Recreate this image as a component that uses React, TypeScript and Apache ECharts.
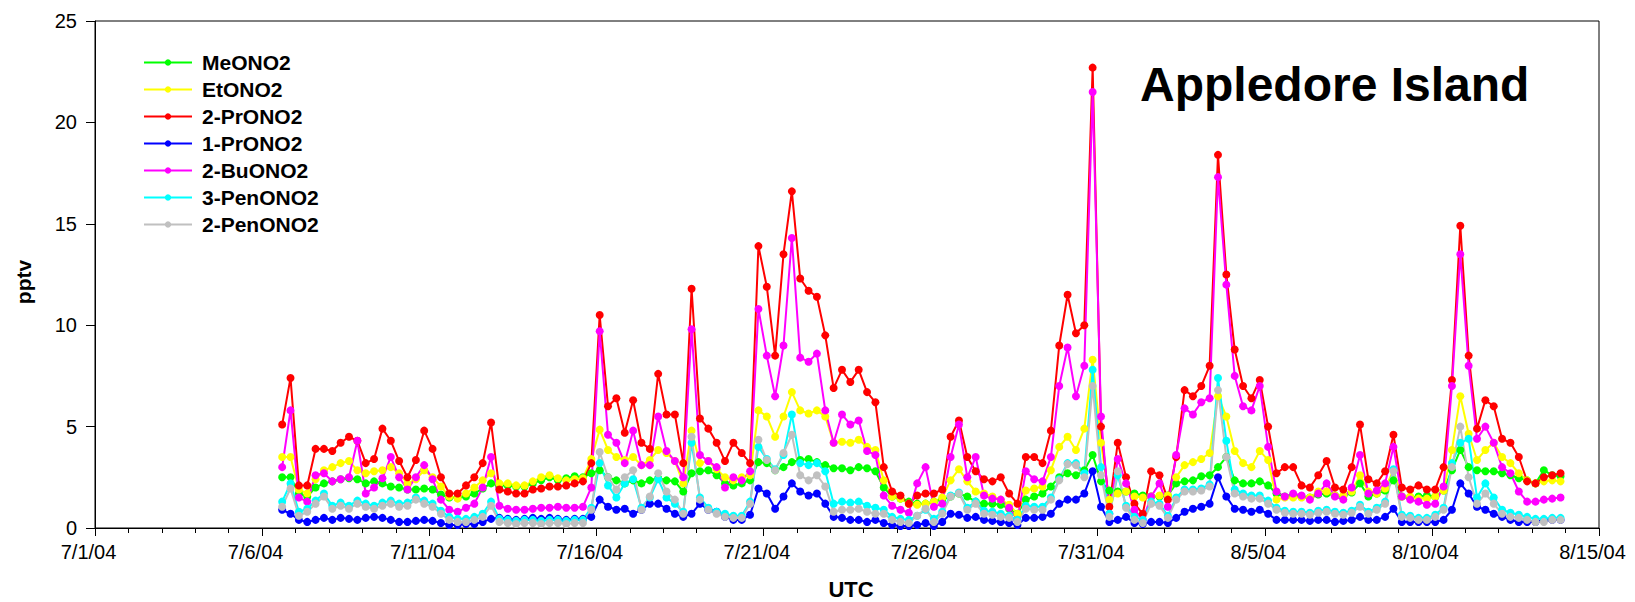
import React, { useEffect, useRef } from "react";
import * as echarts from "echarts";

const FONT = 'Arial, "Liberation Sans", Helvetica, sans-serif';

// Samples are every 6 hours, time given in days after 7/1/04 00:00 UTC
const START_DAY = 5.6;
const STEP_DAY = 0.25;

const xTickLabels = ["7/1/04", "7/6/04", "7/11/04", "7/16/04", "7/21/04", "7/26/04", "7/31/04", "8/5/04", "8/10/04", "8/15/04"];

// Mixing ratios, pptv
const meONO2 = [
  2.5, 2.5, 1.7, 1.55, 2.0, 2.2, 2.3, 2.4, 2.45, 2.4, 2.2, 2.3, 2.2, 2.05, 2.0, 1.9, 1.9, 1.95, 1.9, 1.65, 1.5, 1.5, 1.55, 1.7, 1.95, 2.2,
  2.1, 2.1, 2.05, 2.05, 2.2, 2.35, 2.5, 2.35, 2.45, 2.55, 2.5, 2.7, 2.85, 2.5, 2.35, 2.2, 2.35, 2.2, 2.35, 2.45, 2.35, 2.3, 1.8, 2.7, 2.8, 2.85, 2.6,
  2.2, 2.1, 2.2, 2.35, 3.25, 3.2, 2.85, 3.0, 3.25, 3.35, 3.4, 3.25, 3.1, 2.95, 2.95, 2.85, 3.0, 2.95, 2.8, 2.0, 1.55, 1.45, 1.3, 1.2, 1.2, 1.3, 1.4,
  1.55, 1.7, 1.55, 1.3, 1.2, 1.2, 1.15, 0.95, 0.7, 1.4, 1.55, 1.7, 2.05,
  2.5, 2.7, 2.6, 2.85, 3.6, 2.3, 1.85, 1.8, 1.8, 1.7, 1.6, 1.55, 1.55, 1.6, 2.2, 2.3,
  2.35, 2.55, 2.6, 3.0, 3.5, 2.35, 2.2, 2.2, 2.3, 2.1, 1.7, 1.55, 1.6, 1.55, 1.5, 1.65, 1.7, 1.6, 1.55, 1.75, 2.2,
  1.55, 1.7, 1.85, 2.35, 1.55, 1.5, 1.55, 1.6, 1.55, 1.85, 2.85, 3.85, 3.0, 2.85, 2.8, 2.8, 2.7, 2.6, 2.45, 2.35, 2.2, 2.85, 2.6, 2.55,
];

const etONO2 = [
  3.5, 3.5, 1.9, 1.7, 2.4, 2.85, 3.0, 3.2, 3.3, 2.85, 2.7, 2.8, 2.85, 3.0, 2.7, 2.2, 2.4, 2.85, 2.5, 2.05, 1.55, 1.45, 1.7, 2.0, 2.35, 2.7,
  2.2, 2.2, 2.1, 2.1, 2.3, 2.5, 2.6, 2.45, 2.35, 2.4, 2.45, 3.4, 4.85, 3.85, 3.5, 3.35, 3.5, 3.1, 3.35, 3.85, 3.7, 3.3, 2.2, 4.8, 3.2, 3.3, 2.9,
  2.5, 2.35, 2.5, 2.6, 5.8, 5.5, 4.5, 5.5, 6.7, 5.8, 5.65, 5.8, 5.5, 4.2, 4.25, 4.2, 4.35, 4.0, 3.85, 2.35, 1.55, 1.45, 1.2, 1.15, 1.2, 1.3, 1.5,
  2.35, 2.9, 2.3, 1.8, 1.7, 1.55, 1.4, 1.15, 0.7, 1.85, 1.95, 2.05, 2.85,
  4.0, 4.5, 3.85, 4.9, 8.3, 4.2, 1.4, 1.7, 1.8, 1.55, 1.5, 1.55, 1.6, 1.6, 2.5, 3.1,
  3.25, 3.4, 3.7, 6.5, 5.5, 3.8, 3.2, 3.0, 3.8, 3.35, 1.4, 1.5, 1.5, 1.5, 1.5, 1.8, 1.8, 1.6, 1.6, 1.8, 2.6,
  1.8, 1.7, 1.95, 2.85, 1.55, 1.55, 1.45, 1.45, 1.55, 1.85, 3.85, 6.5, 4.65, 3.35, 3.85, 4.2, 3.5, 3.2, 2.7, 2.35, 2.2, 2.3, 2.35, 2.3,
];

const prONO2_2 = [
  5.1, 7.4, 2.1, 2.1, 3.9, 3.9, 3.8, 4.2, 4.5, 4.3, 3.2, 3.4, 4.9, 4.3, 3.3, 2.5, 3.35, 4.8, 3.9, 2.5, 1.7, 1.7, 2.1, 2.5, 3.2, 5.2,
  1.9, 1.8, 1.7, 1.7, 1.9, 1.95, 2.05, 2.05, 2.1, 2.2, 2.3, 3.2, 10.5, 6.0, 6.4, 4.7, 6.3, 4.2, 3.9, 7.6, 5.6, 5.6, 3.2, 11.8, 5.4, 4.9, 4.2,
  3.3, 4.2, 3.7, 3.2, 13.9, 11.9, 8.5, 13.5, 16.6, 12.3, 11.7, 11.4, 9.5, 6.9, 7.8, 7.2, 7.8, 6.7, 6.2, 3.0, 1.8, 1.6, 1.2, 1.6, 1.7, 1.7, 1.9,
  4.5, 5.3, 3.5, 2.8, 2.4, 2.3, 2.5, 1.7, 1.2, 3.5, 3.5, 3.2, 4.8,
  9.0, 11.5, 9.6, 10.0, 22.7, 5.0, 1.05, 4.2, 2.5, 1.2, 0.7, 2.8, 2.6, 1.4, 3.5, 6.8,
  6.5, 7.0, 8.0, 18.4, 12.5, 8.8, 7.0, 6.4, 7.3, 5.0, 2.7, 3.0, 3.0, 2.1, 2.0, 2.6, 3.3, 2.0, 1.9, 3.0, 5.1,
  2.4, 2.2, 2.8, 4.6, 2.0, 1.9, 2.1, 1.9, 1.9, 3.0, 7.3, 14.9, 8.5, 4.9, 6.3, 6.0, 4.4, 4.2, 3.5, 2.3, 2.2, 2.5, 2.6, 2.7,
];

const prONO2_1 = [
  0.9, 0.7, 0.4, 0.3, 0.4, 0.5, 0.4, 0.5, 0.45, 0.4, 0.5, 0.55, 0.5, 0.4, 0.3, 0.3, 0.35, 0.4, 0.35, 0.25, 0.15, 0.15, 0.2, 0.2, 0.3, 0.45,
  0.5, 0.45, 0.4, 0.45, 0.5, 0.45, 0.5, 0.45, 0.4, 0.45, 0.45, 0.55, 1.4, 1.05, 0.9, 0.95, 0.7, 0.9, 1.2, 1.2, 0.95, 0.7, 0.55, 0.7, 1.2, 0.9, 0.8,
  0.55, 0.4, 0.4, 0.65, 1.95, 1.7, 0.95, 1.55, 2.2, 1.8, 1.6, 1.7, 1.2, 0.55, 0.5, 0.4, 0.4, 0.3, 0.4, 0.25, 0.15, 0.1, 0.1, 0.15, 0.25, 0.1, 0.3,
  0.7, 0.65, 0.5, 0.55, 0.4, 0.35, 0.3, 0.25, 0.15, 0.5, 0.5, 0.55, 0.7,
  1.2, 1.4, 1.4, 1.7, 2.8, 1.05, 0.3, 0.4, 0.55, 0.25, 0.2, 0.3, 0.3, 0.25, 0.5, 0.8,
  0.95, 1.05, 1.2, 2.5, 1.55, 0.95, 0.9, 0.8, 0.9, 0.7, 0.4, 0.4, 0.4, 0.4, 0.35, 0.4, 0.4, 0.3, 0.35, 0.4, 0.55,
  0.4, 0.4, 0.55, 0.95, 0.3, 0.3, 0.3, 0.3, 0.3, 0.4, 0.9, 2.2, 1.7, 1.05, 0.9, 0.7, 0.55, 0.4, 0.3, 0.3, 0.3, 0.4, 0.4, 0.4,
];

const buONO2_2 = [
  3.0, 5.8, 1.5, 1.3, 2.6, 2.7, 2.3, 2.4, 2.5, 4.3, 1.7, 2.0, 2.45, 3.5, 2.5, 1.9, 2.5, 3.1, 2.4, 1.4, 0.9, 0.8, 1.0, 1.2, 2.0, 3.5,
  1.1, 0.95, 0.9, 0.9, 0.95, 1.0, 1.0, 1.05, 1.0, 1.0, 1.05, 2.0, 9.7, 4.6, 4.2, 3.2, 4.8, 3.1, 3.1, 5.5, 3.8, 3.3, 2.5, 9.8, 3.6, 3.3, 3.0,
  2.0, 2.5, 2.35, 2.8, 10.8, 8.5, 6.5, 9.0, 14.3, 8.4, 8.2, 8.6, 5.8, 4.2, 5.6, 5.1, 5.3, 3.8, 3.6, 1.6, 1.1, 0.9, 0.75, 2.2, 3.0, 1.05, 1.2,
  3.5, 5.1, 2.5, 3.5, 1.6, 1.45, 1.4, 1.0, 0.4, 2.8, 2.4, 2.3, 3.5,
  7.0, 8.9, 6.5, 8.0, 21.5, 5.5, 0.7, 3.4, 2.2, 0.9, 0.4, 1.55, 2.2, 1.05, 3.6, 5.9,
  5.6, 6.2, 6.4, 17.3, 12.0, 7.5, 6.0, 5.8, 7.0, 4.0, 1.8, 1.55, 1.7, 1.6, 1.4, 1.7, 2.2, 1.55, 1.4, 2.0, 3.6,
  1.7, 1.85, 2.2, 4.0, 1.55, 1.4, 1.3, 1.15, 1.2, 2.05, 7.0, 13.5, 8.0, 4.4, 5.0, 4.2, 3.0, 2.7, 1.8, 1.3, 1.3, 1.4, 1.45, 1.5,
];

const penONO2_3 = [
  1.3, 2.2, 0.8, 0.95, 1.35, 1.7, 1.1, 1.25, 1.1, 1.35, 1.2, 1.1, 1.25, 1.35, 1.2, 1.25, 1.5, 1.35, 1.2, 0.85, 0.55, 0.45, 0.45, 0.55, 0.7, 1.3,
  0.45, 0.4, 0.35, 0.4, 0.4, 0.35, 0.4, 0.4, 0.35, 0.4, 0.4, 1.0, 3.2, 2.1, 1.5, 2.2, 2.4, 1.0, 1.5, 2.4, 1.5, 1.2, 0.8, 4.2, 1.5, 1.0, 0.8,
  0.7, 0.6, 0.6, 1.3, 4.0, 3.4, 2.9, 3.6, 5.6, 3.2, 3.1, 3.2, 2.8, 1.2, 1.3, 1.25, 1.3, 1.1, 1.0, 0.9, 0.55, 0.45, 0.4, 0.6, 0.9, 0.45, 0.8,
  1.6, 1.75, 1.0, 1.3, 0.85, 0.8, 0.7, 0.6, 0.4, 1.1, 1.05, 1.05, 1.5,
  2.4, 3.2, 3.2, 2.7, 7.8, 3.0, 0.7, 2.6, 1.1, 0.55, 0.4, 1.3, 1.2, 0.6, 1.5, 1.9,
  1.9, 1.95, 2.15, 7.4, 4.3, 1.9, 1.7, 1.6, 1.6, 1.35, 1.0, 0.85, 0.8, 0.8, 0.75, 0.85, 0.9, 0.8, 0.75, 0.85, 1.15,
  0.8, 1.0, 1.3, 2.9, 0.65, 0.6, 0.5, 0.5, 0.65, 1.0, 3.2, 4.2, 4.4, 1.5, 2.2, 1.5, 0.9, 0.75, 0.65, 0.55, 0.45, 0.45, 0.5, 0.5,
];

const penONO2_2 = [
  1.05, 1.95, 0.6, 0.8, 1.2, 1.55, 0.95, 1.1, 0.95, 1.2, 1.05, 0.95, 1.1, 1.2, 1.05, 1.1, 1.4, 1.2, 1.05, 0.7, 0.4, 0.3, 0.3, 0.4, 0.55, 1.1,
  0.3, 0.25, 0.2, 0.25, 0.25, 0.2, 0.25, 0.25, 0.2, 0.25, 0.25, 0.9, 3.75, 2.5, 1.9, 2.5, 2.85, 0.9, 1.55, 2.7, 1.8, 1.4, 0.7, 4.5, 1.4, 0.9, 0.7,
  0.55, 0.5, 0.5, 1.2, 4.35, 3.35, 2.85, 3.7, 4.6, 2.6, 2.35, 2.6, 2.05, 0.8, 0.9, 0.9, 0.95, 0.8, 0.7, 0.7, 0.4, 0.3, 0.25, 0.6, 0.95, 0.3, 0.7,
  1.55, 1.7, 0.9, 1.2, 0.7, 0.65, 0.55, 0.5, 0.3, 0.95, 0.9, 0.9, 1.4,
  2.35, 3.15, 3.1, 2.5, 7.0, 2.6, 0.55, 2.8, 1.0, 0.4, 0.25, 1.2, 1.1, 0.5, 1.4, 1.8,
  1.8, 1.85, 2.05, 6.8, 3.5, 1.7, 1.55, 1.45, 1.45, 1.2, 0.9, 0.75, 0.7, 0.7, 0.65, 0.75, 0.8, 0.7, 0.65, 0.75, 1.05,
  0.7, 0.9, 1.2, 2.8, 0.55, 0.5, 0.4, 0.4, 0.55, 0.9, 3.0, 5.0, 2.5, 1.2, 1.7, 1.2, 0.7, 0.55, 0.5, 0.4, 0.3, 0.3, 0.4, 0.4,
];

const seriesDefs = [
  { name: "MeONO2", color: "#00ff00", values: meONO2 },
  { name: "EtONO2", color: "#ffff00", values: etONO2 },
  { name: "2-PrONO2", color: "#ff0000", values: prONO2_2 },
  { name: "1-PrONO2", color: "#0000ff", values: prONO2_1 },
  { name: "2-BuONO2", color: "#ff00ff", values: buONO2_2 },
  { name: "3-PenONO2", color: "#00ffff", values: penONO2_3 },
  { name: "2-PenONO2", color: "#c0c0c0", values: penONO2_2 },
];

function toPoints(values: number[]) {
  return values.map((v, i) => [Math.round((START_DAY + i * STEP_DAY) * 1000) / 1000, v]);
}

export default function App() {
  const ref = useRef<HTMLDivElement>(null);

  useEffect(() => {
    if (!ref.current) return;
    const chart = echarts.init(ref.current, undefined, { renderer: "svg" });

    const axisLine = { show: true, lineStyle: { color: "#000", width: 1 } };

    chart.setOption({
      animation: false,
      backgroundColor: "#fff",
      grid: {
        left: 95,
        right: 36,
        top: 21,
        bottom: 74,
        show: true,
        borderColor: "#000",
        borderWidth: 1,
        containLabel: false,
        outerBoundsMode: "none",
      },
      legend: {
        orient: "vertical",
        left: 138,
        top: 47,
        itemWidth: 48,
        itemHeight: 8,
        itemGap: 6,
        selectedMode: false,
        data: seriesDefs.map((s) => s.name),
        textStyle: {
          fontFamily: FONT,
          fontSize: 21,
          fontWeight: "bold",
          color: "#000",
          lineHeight: 21,
          padding: [0, 0, 0, 5],
        },
      },
      xAxis: {
        type: "value",
        min: 0,
        max: 45,
        interval: 5,
        axisLine,
        axisTick: { show: true, length: 8, lineStyle: { color: "#000" } },
        minorTick: { show: true, splitNumber: 5, length: 5, lineStyle: { color: "#000" } },
        splitLine: { show: false },
        axisLabel: {
          fontFamily: FONT,
          fontSize: 20,
          color: "#000",
          margin: 14,
          padding: [0, 13, 0, 0],
          formatter: (v: number) => xTickLabels[Math.round(v / 5)] ?? "",
        },
      },
      yAxis: {
        type: "value",
        min: 0,
        max: 25,
        interval: 5,
        axisLine,
        axisTick: { show: true, length: 9, lineStyle: { color: "#000" } },
        splitLine: { show: false },
        axisLabel: { fontFamily: FONT, fontSize: 20, color: "#000", margin: 18 },
      },
      graphic: [
        {
          type: "text",
          left: 1140,
          top: 60,
          style: { text: "Appledore Island", font: `bold 48px ${FONT}`, fill: "#000" },
        },
        {
          type: "text",
          x: 851,
          y: 589,
          style: { text: "UTC", font: `bold 22px ${FONT}`, fill: "#000", textAlign: "center", textVerticalAlign: "middle" },
        },
        {
          type: "text",
          x: 23,
          y: 282,
          rotation: Math.PI / 2,
          style: { text: "pptv", font: `bold 21px ${FONT}`, fill: "#000", textAlign: "center", textVerticalAlign: "middle" },
        },
      ],
      series: seriesDefs.map((s) => ({
        name: s.name,
        type: "line",
        data: toPoints(s.values),
        symbol: "circle",
        symbolSize: 8,
        showSymbol: true,
        lineStyle: { color: s.color, width: 2 },
        itemStyle: { color: s.color },
        emphasis: { disabled: true },
      })),
    });

    return () => chart.dispose();
  }, []);

  return (
    <div
      ref={ref}
      style={{ position: "absolute", left: 0, top: 0, width: 1635, height: 602, background: "#fff" }}
    />
  );
}
